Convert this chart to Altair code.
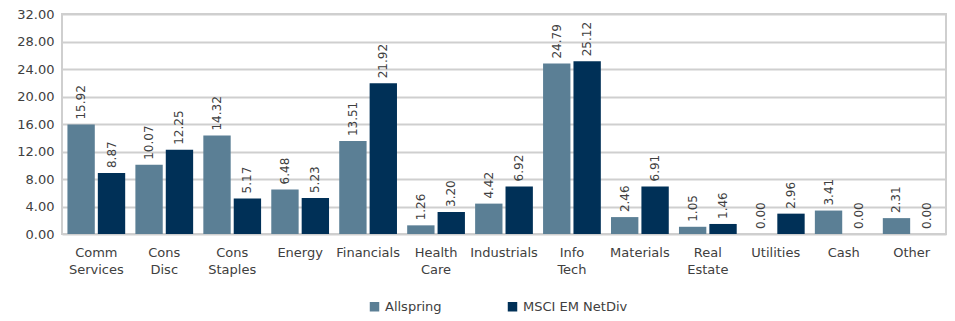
import altair as alt
import pandas as pd

categories = ["Comm Services", "Cons Disc", "Cons Staples", "Energy", "Financials",
              "Health Care", "Industrials", "Info Tech", "Materials", "Real Estate",
              "Utilities", "Cash", "Other"]
allspring = [15.92, 10.07, 14.32, 6.48, 13.51, 1.26, 4.42, 24.79, 2.46, 1.05, 0.00, 3.41, 2.31]
msci = [8.87, 12.25, 5.17, 5.23, 21.92, 3.20, 6.92, 25.12, 6.91, 1.46, 2.96, 0.00, 0.00]
series = ["Allspring", "MSCI EM NetDiv"]
y_ticks = [0, 4, 8, 12, 16, 20, 24, 28, 32]

rows = []
for c, a, m in zip(categories, allspring, msci):
    rows.append({"cat": c, "series": series[0], "value": a})
    rows.append({"cat": c, "series": series[1], "value": m})
df = pd.DataFrame(rows)

FONT = "DejaVu Sans"

x = alt.X("cat:N", sort=categories, title=None,
          scale=alt.Scale(paddingInner=0.15, paddingOuter=0.08),
          axis=alt.Axis(labelAngle=0, labelExpr="split(datum.label, ' ')",
                        labelFontSize=13, labelColor="#404040", labelFont=FONT,
                        labelPadding=12, ticks=False, domain=False, labelLineHeight=17))
xoff = alt.XOffset("series:N", sort=series, scale=alt.Scale(paddingInner=0.1))
y = alt.Y("value:Q", title=None,
          scale=alt.Scale(domain=[0, 32], nice=False),
          axis=alt.Axis(values=y_ticks, format=".2f", labelFontSize=13,
                        labelColor="#404040", labelFont=FONT, ticks=False,
                        domain=False, gridColor="#CFCFCF", gridWidth=2,
                        labelPadding=8))

color = alt.Color("series:N", sort=series, title=None,
                  scale=alt.Scale(domain=series, range=["#5B7F95", "#003057"]),
                  legend=alt.Legend(orient="none", legendX=306, legendY=286,
                                    direction="horizontal",
                                    symbolType="square", symbolSize=90,
                                    symbolStrokeWidth=0, labelFontSize=13,
                                    labelFont=FONT, labelColor="#404040",
                                    columnPadding=64))

bars = alt.Chart(df).mark_bar().encode(x=x, xOffset=xoff, y=y, color=color)

labels = alt.Chart(df).mark_text(angle=270, align="left", baseline="middle",
                                 dx=5, fontSize=12, font=FONT,
                                 color="#404040").encode(
    x=x, xOffset=xoff, y=y, text=alt.Text("value:Q", format=".2f"))

chart = (bars + labels).properties(
    width=884, height=220,
    autosize=alt.AutoSizeParams(type="none"),
    padding={"left": 54, "top": 6, "right": 1, "bottom": 87},
).configure_view(stroke="#CFCFCF", strokeWidth=2)

chart.save("out.html", embed_options={"renderer": "svg", "actions": False})
